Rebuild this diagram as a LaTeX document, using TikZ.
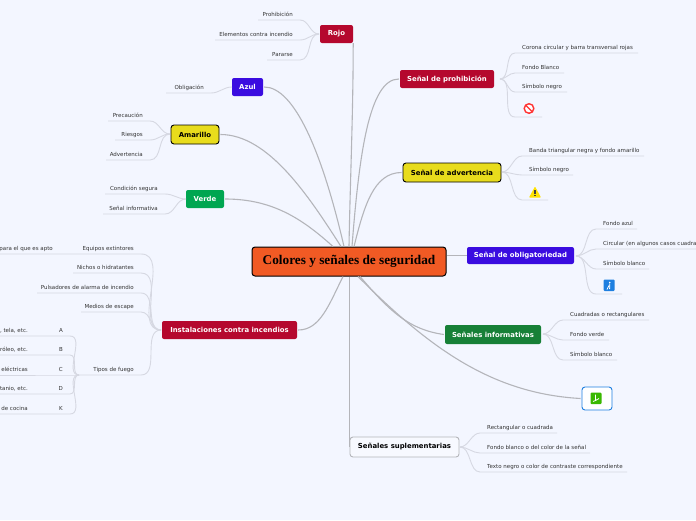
\documentclass[tikz,border=0pt]{standalone}
\usepackage{fontspec}
\setmainfont{DejaVu Sans}
\newfontfamily\titlefont{Liberation Serif}
\definecolor{bgc}{HTML}{F3F6FF}
\definecolor{crim}{HTML}{B5082E}
\definecolor{blu}{HTML}{3A0CE0}
\definecolor{yel}{HTML}{E8DC1C}
\definecolor{grn}{HTML}{00A651}
\definecolor{grnb}{HTML}{178037}
\definecolor{org}{HTML}{F15A24}
\definecolor{mainl}{HTML}{B4B5BA}
\definecolor{leafl}{HTML}{D6D8E2}
\definecolor{txt}{HTML}{333333}
\definecolor{iconb}{HTML}{1E7FE0}
\tikzset{
  topic/.style={rounded corners=2pt,inner sep=0pt,font=\fontsize{6.9}{8}\selectfont\bfseries,align=center},
  red topic/.style={topic,fill=crim,text=white},
  blue topic/.style={topic,fill=blu,text=white},
  green topic/.style={topic,fill=grn,text=white},
  dgreen topic/.style={topic,fill=grnb,text=white},
  yellow topic/.style={topic,fill=yel,text=black,draw=black,line width=.9pt,rounded corners=3pt},
  white topic/.style={topic,fill=bgc!70!white,text=black,draw=mainl,line width=.9pt,rounded corners=3pt},
  main/.style={draw=mainl,line width=1.1pt},
  leafline/.style={draw=leafl,line width=.9pt},
  leaf/.style={font=\fontsize{5.5}{6}\selectfont,text=txt,inner sep=0pt,text height=4pt,text depth=1pt},
}
% right-hand leaf: id, hub, x start of underline, x end, y of underline, text
\newcommand{\leafR}[6]{%
  \coordinate (#1a) at (#3,#5);\coordinate (#1b) at (#4,#5);
  \node[leaf,anchor=west] (#1) at (#3+7,#5-4.7) {#6};
  \draw[leafline] (#2) to[out=0,in=180,looseness=.9] (#1a) -- (#1b);}
% left-hand leaf: id, hub, x near end, x far end, y, text
\newcommand{\leafL}[6]{%
  \coordinate (#1a) at (#3,#5);\coordinate (#1b) at (#4,#5);
  \node[leaf,anchor=east] (#1) at (#3-7,#5-4.7) {#6};
  \draw[leafline] (#2) to[out=180,in=0,looseness=1] (#1a) -- (#1b);}
\begin{document}
\begin{tikzpicture}[x=1pt,y=-1pt]
\useasboundingbox (0,0) rectangle (696,520);
\clip (0,0) rectangle (696,520);
\fill[bgc] (0,0) rectangle (696,520);

% topics
\node[topic,fill=org,draw=black,line width=1pt,rounded corners=3pt,minimum width=194pt,minimum height=29pt,font=\titlefont\fontsize{13.3}{15}\selectfont\bfseries,text=black] (root) at (349,261.5) {Colores y señales de seguridad};
\node[red topic,minimum width=33pt,minimum height=18pt] (rojo) at (336.5,34) {Rojo};
\node[blue topic,minimum width=31pt,minimum height=18pt] (azul) at (247.5,87) {Azul};
\node[yellow topic,minimum width=48pt,minimum height=19pt] (amarillo) at (195,134.5) {Amarillo};
\node[green topic,minimum width=38pt,minimum height=18pt] (verde) at (205,199) {Verde};
\node[red topic,minimum width=135pt,minimum height=18pt] (inst) at (229.5,330) {Instalaciones contra incendios};
\node[red topic,minimum width=94pt,minimum height=18pt] (proh) at (447,79) {Señal de prohibición};
\node[yellow topic,minimum width=98pt,minimum height=19pt] (adv) at (452,172.5) {Señal de advertencia};
\node[blue topic,minimum width=107pt,minimum height=17pt] (obl) at (520.5,255.5) {Señal de obligatoriedad};
\node[dgreen topic,minimum width=96pt,minimum height=19pt] (info) at (493,334.5) {Señales informativas};
\node[topic,fill=white,draw=iconb,line width=.9pt,rounded corners=3pt,minimum width=30pt,minimum height=23pt] (icn) at (597,398.5) {};
\node[white topic,minimum width=109pt,minimum height=20pt] (supl) at (404.5,447) {Señales suplementarias};

% main connectors
\draw[main] (rojo.south east) .. controls +(0,70) and +(1,-60) .. (root.north);
\draw[main] ([xshift=1pt]azul.east) .. controls +(30,0) and +(-22,-95) .. ([xshift=-5pt]root.north);
\draw[main] ([xshift=1pt]amarillo.east) .. controls +(48,0) and +(-32,-50) .. ([xshift=-8pt]root.north);
\draw[main] ([xshift=1pt]verde.east) .. controls +(48,0) and +(-30,-27) .. ([xshift=-16pt]root.north);
\draw[main] ([xshift=1pt]inst.east) .. controls +(22,0) and +(-14,28) .. ([xshift=-6pt]root.south);
\draw[main] ([xshift=-1pt]proh.west) .. controls +(-30,0) and +(7,-90) .. ([xshift=3pt]root.north);
\draw[main] ([xshift=-1pt]adv.west) .. controls +(-28,0) and +(10,-40) .. ([xshift=5pt]root.north);
\draw[main] (obl.west) -- (root.east |- obl.west);
\draw[main] ([xshift=-1pt]info.west) .. controls +(-35,-5) and +(30,35) .. ([xshift=11pt]root.south);
\draw[main] ([xshift=-1pt]icn.west) .. controls +(-90,-5) and +(70,70) .. ([xshift=9pt]root.south);
\draw[main] (supl.west) -- (root.south -| supl.west);

% hubs
\coordinate (hR) at (319,34);
\coordinate (hZ) at (232,87);
\coordinate (hA) at (170,134);
\coordinate (hV) at (186,199);
\coordinate (hI) at (161,330);
\coordinate (hT) at (79,375);
\coordinate (hP) at (500,79);
\coordinate (hD) at (502,172);
\coordinate (hO) at (576,256);
\coordinate (hF) at (543,334);
\coordinate (hS) at (460,447);

% leaves left
\leafL{r1}{hR}{300}{258}{20}{Prohibición}
\leafL{r2}{hR}{300}{215}{40}{Elementos contra incendio}
\leafL{r3}{hR}{300}{267}{60}{Pararse}
\leafL{z1}{hZ}{211}{166}{93}{Obligación}
\leafL{a1}{hA}{150}{108}{121}{Precaución}
\leafL{a2}{hA}{150}{115}{140}{Riesgos}
\leafL{a3}{hA}{150}{106}{160}{Advertencia}
\leafL{v1}{hV}{165}{105}{194}{Condición segura}
\leafL{v2}{hV}{165}{103}{214}{Señal informativa}
\leafL{i1}{hI}{141}{0}{254}{Equipos extintores}
\leafL{i2}{hI}{141}{73}{273}{Nichos o hidratantes}
\leafL{i3}{hI}{141}{37}{293}{Pulsadores de alarma de incendio}
\leafL{i4}{hI}{141}{81}{312}{Medios de escape}
\leafL{i5}{hI}{141}{79}{375}{Tipos de fuego}
\leafL{t1}{hT}{70}{0}{336}{A}
\leafL{t2}{hT}{70}{0}{355}{B}
\leafL{t3}{hT}{70}{0}{375}{C}
\leafL{t4}{hT}{70}{0}{394}{D}
\leafL{t5}{hT}{70}{0}{414}{K}
\node[leaf,anchor=east] (e1) at (53,249) {para el que es apto};
\node[leaf,anchor=east] (e2) at (28,331) {, tela, etc.};
\node[leaf,anchor=east] (e3) at (28,350) {róleo, etc.};
\node[leaf,anchor=east] (e4) at (28,369.5) {eléctricas};
\node[leaf,anchor=east] (e5) at (28,389) {tanio, etc.};
\node[leaf,anchor=east] (e6) at (28,408.5) {de cocina};

% leaves right
\leafR{p1}{hP}{515}{638}{53}{Corona circular y barra transversal rojas}
\leafR{p2}{hP}{515}{564}{73}{Fondo Blanco}
\leafR{p3}{hP}{515}{567}{92}{Símbolo negro}
\leafR{p4}{hP}{515}{542}{117}{}
\leafR{d1}{hD}{522}{644}{156}{Banda triangular negra y fondo amarillo}
\leafR{d2}{hD}{522}{573}{175}{Símbolo negro}
\leafR{d3}{hD}{522}{548}{200}{}
\leafR{o1}{hO}{596}{637}{229}{Fondo azul}
\leafR{o2}{hO}{596}{700}{249}{Circular (en algunos casos cuadra}
\leafR{o3}{hO}{596}{649}{269}{Símbolo blanco}
\leafR{o4}{hO}{596}{622}{294}{}
\leafR{f1}{hF}{563}{649}{320}{Cuadradas o rectangulares}
\leafR{f2}{hF}{563}{609}{340}{Fondo verde}
\leafR{f3}{hF}{563}{617}{360}{Símbolo blanco}
\leafR{s1}{hS}{480}{557}{433}{Rectangular o cuadrada}
\leafR{s2}{hS}{480}{590}{453}{Fondo blanco o del color de la señal}
\leafR{s3}{hS}{480}{627}{472}{Texto negro o color de contraste correspondiente}

% icons
% no entry
\draw[red!80!white,line width=1.4pt,fill=white] (529,108.5) circle (4.8);
\draw[red!80!white,line width=1.4pt] (525.6,105.1) -- (532.4,111.9);
% warning
\fill[yellow!85!orange,rounded corners=.7pt] (535,186.5) -- (541,197.5) -- (529,197.5) -- cycle;
\fill[black!75] (534.4,190) rectangle (535.6,194);
\fill[black!75] (534.4,195) rectangle (535.6,196.2);
% blue sign
\fill[iconb,rounded corners=1pt] (603.5,279.5) rectangle (614.5,291);
\fill[white] (609.8,282.5) circle (.9);
\draw[white,line width=.8pt] (609.8,283.5) -- (609.6,289) (607,289.5) -- (609,285.5);
% green sign
\fill[green!60!black!70!lime,rounded corners=1pt] (590.5,392.5) rectangle (601.5,404);
\draw[white,line width=.8pt] (595.5,394.5) -- (595.5,400.5) -- (599,398.5) (593,401.5) -- (595.5,400.5);
\end{tikzpicture}
\end{document}
